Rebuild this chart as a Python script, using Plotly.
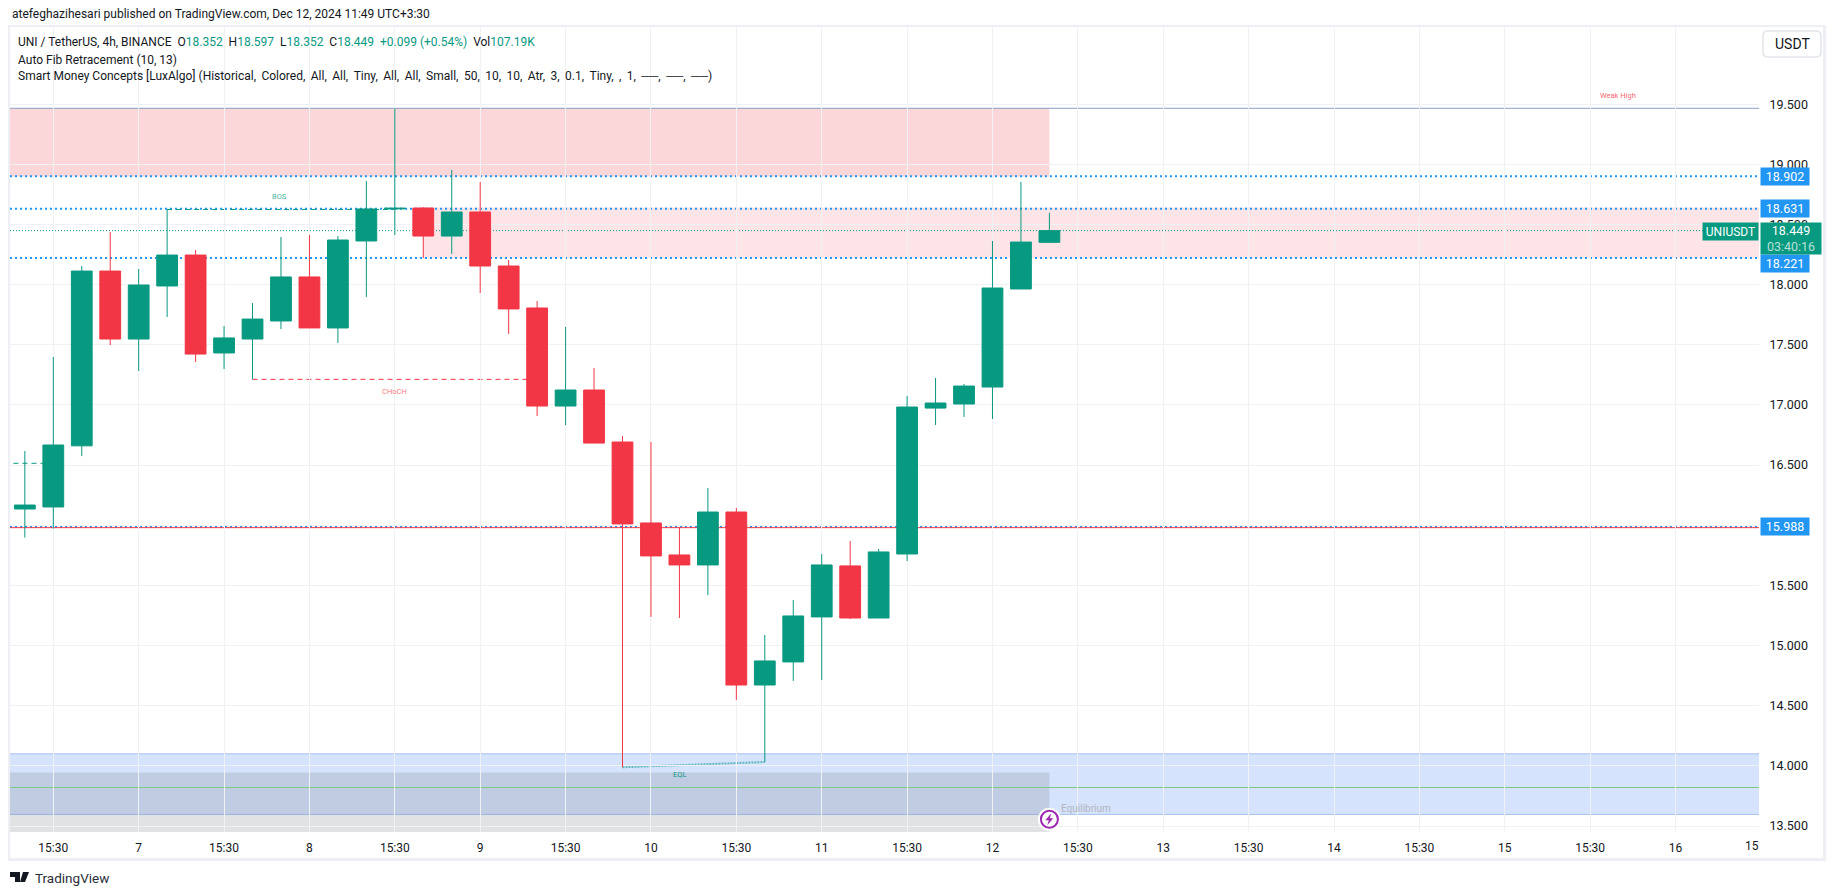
import plotly.graph_objects as go

W, H = 1835, 895
L, R, T, B = 10, 1759, 28, 832

opens  = [16.135,16.152,16.66,18.113,17.548,17.989,18.246,17.432,17.548,17.698,18.064,17.64,18.363,18.630,18.637,18.404,18.604,18.155,17.806,16.991,17.124,16.692,16.019,15.753,15.67,16.11,14.672,14.864,15.238,15.662,15.229,15.761,16.974,17.008,17.149,17.964,18.352]
highs  = [16.617,17.399,18.155,18.438,18.13,18.629,18.288,17.656,17.847,18.396,18.413,18.404,18.862,19.466,18.645,18.953,18.853,18.205,17.864,17.648,17.307,16.742,16.692,15.983,16.31,16.144,15.088,15.379,15.761,15.869,15.803,17.074,17.224,17.174,18.363,18.853,18.597]
lows   = [15.897,15.972,16.575,17.498,17.282,17.731,17.357,17.299,17.213,17.631,17.64,17.515,17.897,18.413,18.222,18.255,17.931,17.59,16.908,16.833,16.683,13.988,15.238,15.229,15.42,14.548,14.032,14.706,14.714,15.221,15.229,15.703,16.833,16.9,16.883,17.964,18.352]
closes = [16.168,16.667,18.113,17.548,17.997,18.246,17.423,17.557,17.714,18.064,17.64,18.371,18.629,18.635,18.404,18.604,18.155,17.798,16.991,17.124,16.683,16.011,15.745,15.67,16.11,14.672,14.872,15.246,15.67,15.229,15.778,16.983,17.016,17.157,17.972,18.354,18.449]
bars = list(range(len(opens)))

tick_bars = list(range(1, 59, 3))
tick_text = ["15:30","7","15:30","8","15:30","9","15:30","10","15:30","11","15:30","12","15:30","13","15:30","14","15:30","15","15:30","16"]
price_ticks = [13.5,14,14.5,15,15.5,16,16.5,17,17.5,18,18.5,19,19.5]
price_tick_text = ["13.500","14.000","14.500","15.000","15.500","","16.500","17.000","17.500","18.000","18.500","19.000","19.500"]

fib_levels = [18.902, 18.631, 18.221, 15.988]
last_price = 18.449
weak_high = 19.466
red_zone = (18.9, 19.466)
pink_zone = (18.222, 18.642)
blue_zone = (13.596, 14.10)
gray_top = 13.945
equilibrium = 13.82

xmin = (L - 24.84) / 28.46
xmax = (R - 24.84) / 28.46
ymax = 19.5 + (104.2 - T) / 120.3
ymin = 19.5 - (B - 104.2) / 120.3
px = lambda x: x / W
py = lambda y: 1 - y / H

GREEN, RED, BLUE = "#089981", "#F23645", "#2196F3"
FONT = "Roboto, sans-serif"
INK = "#131722"
GRID = "#f0f1f4"

fig = go.Figure()

shapes = []
def rect(x0, x1, y0, y1, fill, line=None):
    shapes.append(dict(type="rect", xref="x", yref="y", x0=x0, x1=x1, y0=y0, y1=y1, fillcolor=fill,
                       line=dict(width=1 if line else 0, color=line or "rgba(0,0,0,0)"), layer="below"))
def hline(x0, x1, y0, color, width=1, dash="solid", y1=None):
    shapes.append(dict(type="line", xref="x", yref="y", x0=x0, x1=x1, y0=y0, y1=y0 if y1 is None else y1,
                       line=dict(color=color, width=width, dash=dash), layer="below"))
def path(points, fill, close=True):
    d = " ".join(("M" if k == 0 else "L") + f" {px(a)} {py(b)}" for k, (a, b) in enumerate(points)) + " Z"
    shapes.append(dict(type="path", xref="paper", yref="paper", path=d, fillcolor=fill, line=dict(width=0), layer="above"))

rect(xmin, 36, red_zone[0], red_zone[1], "rgba(242,54,69,0.20)")
rect(14, xmax, pink_zone[0], pink_zone[1], "rgba(242,54,69,0.13)")
rect(xmin, xmax, blue_zone[0], blue_zone[1], "rgba(33,105,240,0.19)")
hline(xmin, xmax, blue_zone[1], "#a9c4f5", 1)
hline(xmin, xmax, blue_zone[0], "#a9c4f5", 1)
rect(xmin, 36, ymin, gray_top, "rgba(120,123,134,0.22)")
hline(xmin, xmax, equilibrium, "#81c784", 1)
hline(xmin, xmax, weak_high, "#8a9cc8", 1)
for lv in fib_levels:
    hline(xmin, xmax, lv, BLUE, 2, "2px,3px")
hline(xmin, xmax, 15.98, RED, 1)
hline(xmin, xmax, last_price, GREEN, 1, "1px,2px")
hline(5, 13, 18.625, GREEN, 1, "5px,4px")
hline(8, 18, 17.213, RED, 1, "5px,4px")
hline(-0.4, 1, 16.515, GREEN, 1, "5px,4px")
hline(21, 26, 13.988, "#5fb8bb", 2, "2px,1px", y1=14.032)

# frame
FRAME = "#eeeff4"
for (a, b, c, d) in [(8, 10, 25, 861), (8, 1826, 25, 27), (8, 1826, 858, 861), (1823, 1826, 25, 861)]:
    shapes.append(dict(type="rect", xref="paper", yref="paper", x0=px(a), x1=px(b), y0=py(c), y1=py(d),
                       fillcolor=FRAME, line=dict(width=0), layer="above"))
# logo
path([(10,872),(20,872),(20,882),(15,882),(15,877),(10,877)], INK)
path([(23,872),(29,872),(25,882),(20,882)], INK)
# rounded USDT button
x0, x1, y0, y1, r = 1763, 1821, 31, 57, 5
shapes.append(dict(type="path", xref="paper", yref="paper", fillcolor="white", layer="above",
    line=dict(color="#e3e5ec", width=1.5),
    path=(f"M {px(x0+r)} {py(y0)} L {px(x1-r)} {py(y0)} Q {px(x1)} {py(y0)} {px(x1)} {py(y0+r)} "
          f"L {px(x1)} {py(y1-r)} Q {px(x1)} {py(y1)} {px(x1-r)} {py(y1)} L {px(x0+r)} {py(y1)} "
          f"Q {px(x0)} {py(y1)} {px(x0)} {py(y1-r)} L {px(x0)} {py(y0+r)} Q {px(x0)} {py(y0)} {px(x0+r)} {py(y0)} Z")))
# lightning bolt of the marker
cx, cy = 1049.3, 819.3
path([(cx+2,cy-6),(cx-4,cy+1),(cx-0.5,cy+1),(cx-2,cy+6),(cx+4,cy-1),(cx+0.5,cy-1)], "#9c27b0")

fig.add_trace(go.Candlestick(x=bars, open=opens, high=highs, low=lows, close=closes, whiskerwidth=0,
    increasing=dict(line=dict(color=GREEN, width=1), fillcolor=GREEN),
    decreasing=dict(line=dict(color=RED, width=1), fillcolor=RED), showlegend=False, hoverinfo="skip"))
fig.add_trace(go.Scatter(x=[36], y=[13.556], mode="markers", cliponaxis=False, showlegend=False, hoverinfo="skip",
    marker=dict(size=23, color="white", line=dict(width=0))))
fig.add_trace(go.Scatter(x=[36], y=[13.556], mode="markers", cliponaxis=False, showlegend=False, hoverinfo="skip",
    marker=dict(size=17, color="white", line=dict(color="#9c27b0", width=2))))

ann = []
def ptext(x, y, text, size=12, color=INK, anchor="left", **kw):
    ann.append(dict(xref="paper", yref="paper", x=px(x), y=py(y), text=text, showarrow=False, xanchor=anchor,
                    yanchor="middle", font=dict(family=FONT, size=size, color=color), **kw))
def dtext(i, v, text, color, size=7.5):
    ann.append(dict(xref="x", yref="y", x=i, y=v, text=text, showarrow=False, font=dict(family=FONT, size=size, color=color)))

g = lambda s: f'<span style="color:{GREEN}">{s}</span>'
NB = "\u00a0"
TS = "\u2009"
indicator_args = ["Historical","Colored","All","All","Tiny","All","All","Small","50","10","10","Atr","3","0.1","Tiny","","1","──","──","──"]
ptext(10, 14, "atefeghazihesari published on TradingView.com, Dec 12, 2024 11:49 UTC+3:30", 12)
ptext(16, 42.5, f"UNI / TetherUS, 4h, BINANCE{NB}{NB}O{g('18.352')}{NB}{NB}H{g('18.597')}{NB}{NB}L{g('18.352')}{NB}{NB}C{g('18.449')}{NB}{NB}{g('+0.099 (+0.54%)')}{NB}{NB}Vol{g('107.19K')}", 12)
ptext(16, 59.5, "Auto Fib Retracement (10, 13)", 12)
ptext(16, 76, "Smart Money Concepts [LuxAlgo] (" + (f", {TS}").join(indicator_args) + ")", 12)
ptext(33, 878, "TradingView", 13.5, "#2a2e39")
ptext(1792, 44, "USDT", 14, anchor="center")

dtext(8.96, 18.731, "BOS", "rgba(8,153,129,0.8)")
dtext(13, 17.11, "CHoCH", "rgba(242,54,69,0.7)")
dtext(23, 13.927, "EQL", GREEN)
dtext(55.98, 19.576, "Weak High", "rgba(242,54,69,0.8)")
dtext(37.29, 13.645, "Equilibrium", "#b2b5be", 10)
ann.append(dict(xref="x", yref="paper", x=60.69, y=py(846), text="15", showarrow=False, yanchor="middle",
                font=dict(family=FONT, size=12, color=INK)))

def badge(v, text, yshift=0):
    ann.append(dict(xref="paper", yref="y", x=px(1760), y=v, text=text, showarrow=False, xanchor="left", yanchor="middle",
                    yshift=yshift, bgcolor=BLUE, width=48, height=17, borderpad=0, align="center",
                    font=dict(family=FONT, size=12.5, color="white")))
badge(fib_levels[0], "18.902")
badge(fib_levels[1], "18.631")
badge(fib_levels[2], "18.221", yshift=-5)
badge(fib_levels[3], "15.988")
ptext(1759, 231.3, "UNIUSDT", 12, "white", anchor="right", bgcolor=GREEN, width=55, height=17, borderpad=0, align="center")
ptext(1760, 238.3, '18.449<br><span style="color:#b5e2d6">03:40:16</span>', 12.5, "white", bgcolor=GREEN, width=60, height=31,
      borderpad=0, align="center")

fig.update_layout(
    width=W, height=H, margin=dict(l=0, r=0, t=0, b=0), paper_bgcolor="white", plot_bgcolor="white",
    showlegend=False, shapes=shapes, annotations=ann, boxgap=0.27, boxgroupgap=0, font=dict(family=FONT, color=INK, size=12),
    xaxis=dict(domain=[px(L), px(R)], range=[xmin, xmax], rangeslider=dict(visible=False), tickmode="array",
               tickvals=tick_bars, ticktext=tick_text, showgrid=True, gridcolor=GRID, gridwidth=1, zeroline=False,
               showline=False, ticks="outside", ticklen=5, tickcolor="rgba(0,0,0,0)", tickfont=dict(size=12, color=INK, family=FONT)),
    yaxis=dict(domain=[py(B), py(T)], range=[ymin, ymax], side="right", tickmode="array", tickvals=price_ticks,
               ticktext=price_tick_text, showgrid=True, gridcolor=GRID, gridwidth=1, zeroline=False, showline=False,
               ticks="outside", ticklen=7, tickcolor="rgba(0,0,0,0)", tickfont=dict(size=12.5, color=INK, family=FONT)),
)

fig.write_html("out.html", config={"displayModeBar": False},
               post_script="document.body.style.margin='0';document.body.style.overflow='hidden';")
